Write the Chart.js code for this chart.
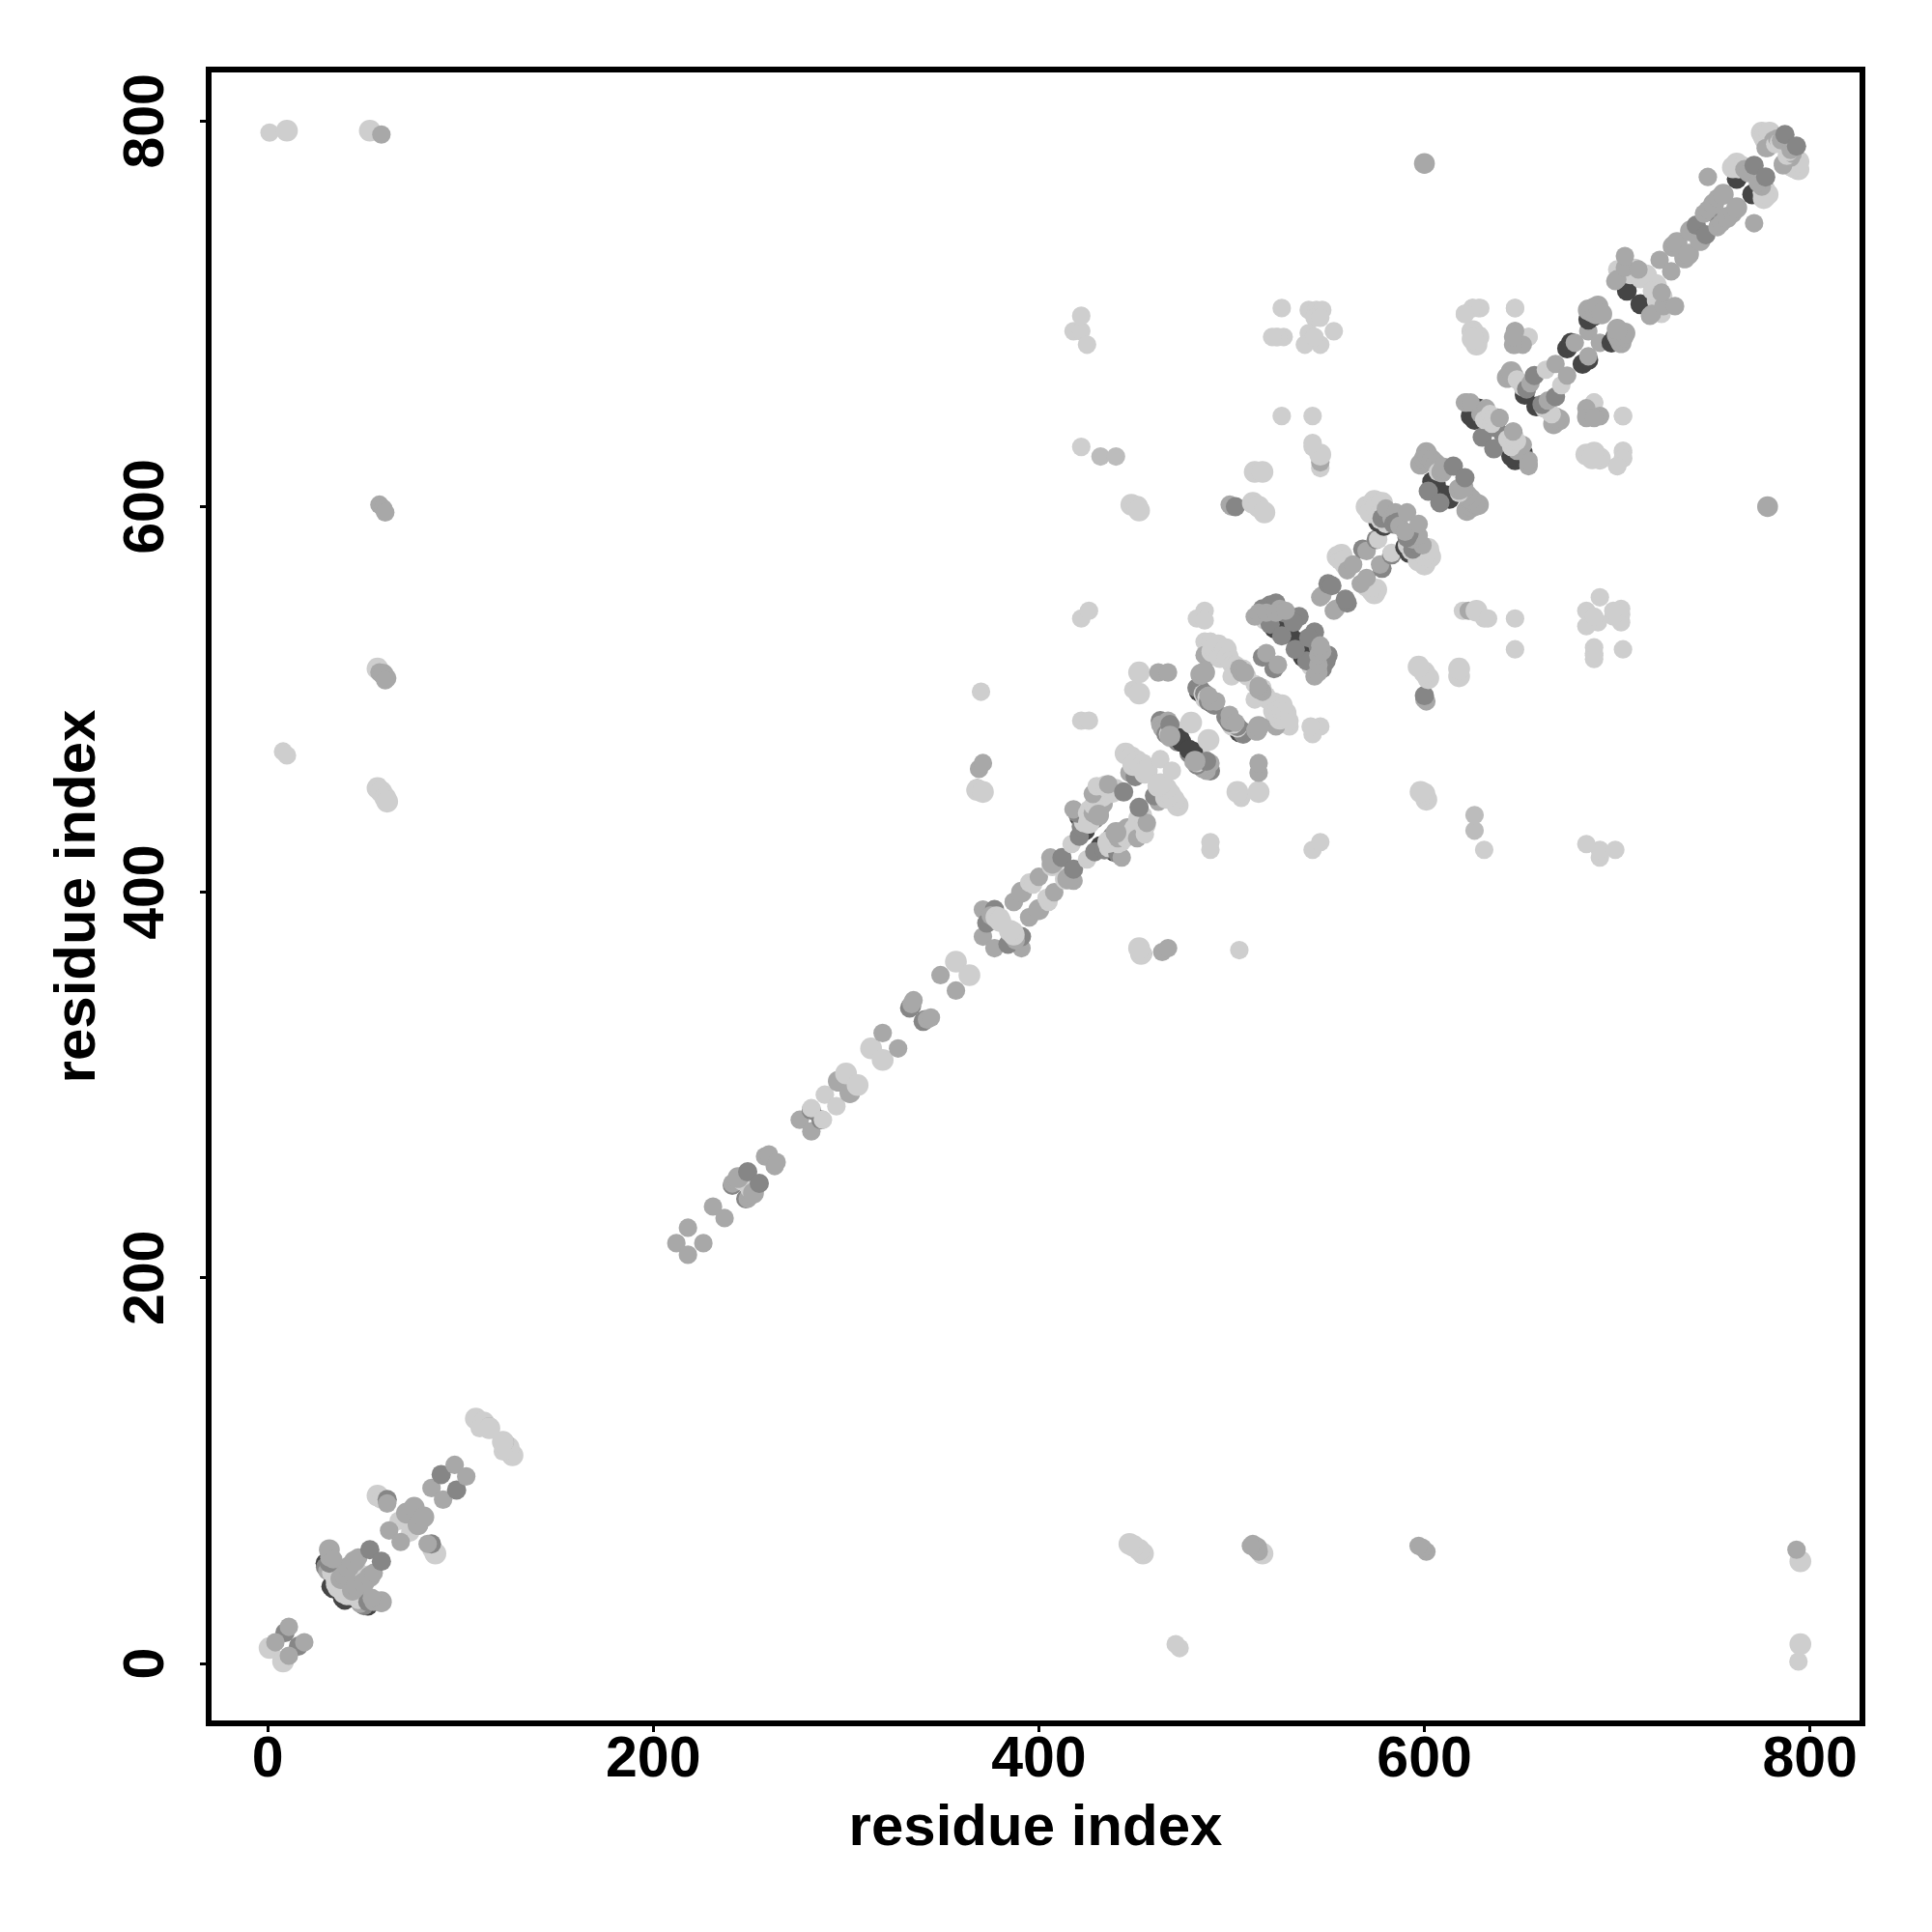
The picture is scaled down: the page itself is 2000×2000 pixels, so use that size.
<!DOCTYPE html>
<html>
<head>
<meta charset="utf-8">
<style>html,body{margin:0;padding:0;background:#fff}canvas{display:block}</style>
<script src="https://cdn.jsdelivr.net/npm/chart.js@4/dist/chart.umd.min.js"></script>
</head>
<body>
<canvas id="c" width="2000" height="2000"></canvas>
<script>
const axisTicks = [0, 200, 400, 600, 800];
const axisTitle = "residue index";

// Contacts: [residue i, residue j, class]. The map is symmetric, so each is shown at (i,j) and (j,i).
const farContacts = [
 [1,794,1],[10,795,0],[53,795,0],[59,793,3],[58,601,3],[60,599,3],[61,597,3],
 [57,516,0],[58,514,3],[60,513,4],[62,511,3],[61,510,3],[57,454,0],[59,452,0],[61,449,0],[62,447,0],
 [8,473,1],[10,471,1],[600,778,4]
];
const segment0to130 = [
 [1,8,0],[9,16,5],[4,11,3],[11,19,3],
 [30,52,6],[32,52,3],[30,50,5],[31,48,3],[33,40,6],[34,39,6],[35,41,1],[36,39,1],[35,43,1],[37,41,1],[33,47,1],[32,52,5],[46,52,1],[45,50,1],
 [38,44,4],[40,46,4],[42,50,4],[45,53,4],[32,55,3],[32,59,4],[34,54,3],[47,55,3],[53,59,5],
 [57,87,0],[59,85,1],[62,85,5],[62,83,3],[68,74,1],[63,69,3],[72,78,4],[76,81,4],
 [85,91,3],[90,98,5],[97,103,3],
 [108,127,0],[112,125,0],[110,122,1],[115,123,3],[115,122,0]
];
const segment210to370 = [
 [212,218,3],[218,226,3],[231,237,3],
 [241,248,5],[241,249,3],[243,250,3],[246,250,1],[244,252,4],[249,255,5],[258,263,3],[260,264,3],
 [276,282,3],[282,287,5],[282,288,1],[289,295,1],[296,302,4],[300,306,0],
 [313,319,0],[319,327,3],[333,340,5],[334,341,5],[334,342,3],[335,344,3],[349,357,3],[357,364,0]
];
const segment370to460 = [
 [371,377,3],[371,391,3],[373,384,5],[377,391,5],[375,388,3],[378,387,0],[380,387,1],[380,385,0],
 [387,395,1],[387,395,3],[391,400,4],[395,405,1],[397,404,1],[400,408,3],[407,414,0],[406,418,3],[407,415,4],[412,418,5],
 [421,439,6],[424,432,6],[423,440,6],[417,425,1],[421,429,5],[422,434,5],[423,436,1],[425,438,3],[429,438,5],[426,440,3],[420,441,5],[418,443,3],[426,436,0],[425,441,1],[426,443,1],
 [428,441,3],[431,443,4],[433,446,4],[428,445,1],[430,448,0],[433,450,0],[436,451,1],[438,452,0],[440,454,1],
 [428,451,3],[430,455,1],[435,455,0],[431,440,4],[436,456,3],[444,452,5],
 [447,462,3],[450,460,5],[445,472,0],[448,470,0],[449,466,0],[451,468,0],[454,466,0],[455,462,0],[456,463,0],[463,469,1]
];
const segment460to530 = [
 [463,489,5],[466,486,5],[463,487,3],[464,485,3],[465,484,3],[466,482,5],[467,482,1],[468,480,1],[470,483,3],[470,485,1],[472,478,5],[473,480,6],[474,478,6],[479,488,0],[467,489,3],[468,487,5],[468,481,4],
 [483,504,6],[490,498,6],[482,506,5],[486,500,1],[484,505,5],[485,503,1],[486,503,5],[487,501,1],[488,499,5],[491,497,5],[489,499,3],[492,499,3],[488,502,3],
 [486,546,1],[482,542,1],[486,541,1],[486,530,1],[489,530,1],[486,523,3],[488,522,3],[490,525,0],[493,528,0],[491,527,0],[494,522,0],[496,524,0],[497,526,0],[498,522,0],
 [499,520,1],[500,518,1],[502,518,1],[503,516,1],[500,512,1],[508,512,1],[506,516,1],[504,516,3],[505,514,3],[507,514,3],[484,513,4],[486,514,4],
 [516,522,5],[518,524,3]
];
const segment510to600 = [
 [524,535,1],[527,539,1],[531,538,1],[526,541,1],[517,541,1],
 [528,536,6],[529,543,6],[530,534,6],[525,541,6],[522,537,6],
 [516,547,5],[520,549,5],[523,550,5],[520,539,5],[526,533,5],[535,543,5],[527,545,5],[532,540,5],
 [512,543,3],[514,545,3],[518,545,3],[523,545,3],[525,547,3],[528,546,3],
 [546,553,3],[547,554,3],[550,560,5],[552,559,5],[555,574,0],[557,575,0],[559,570,0],[556,572,1],[558,573,1],[560,567,3],[563,570,3],
 [568,578,5],[570,577,3],[575,583,5],[576,583,1],
 [576,592,6],[579,590,6],[577,593,1],[580,591,1],[576,603,3],[574,598,0],[570,600,0],[572,597,0],[574,603,0],[575,600,0],[578,602,0],[577,597,1],[578,594,5],[581,596,5],[580,599,3],[583,594,3],[585,597,3],[584,591,5],[586,592,5],[587,590,3],[591,597,3]
];
const segment600to710 = [
 [604,613,6],[606,611,6],[602,608,5],[598,622,4],[600,625,4],[601,628,4],[602,626,4],[604,624,4],[606,622,4],[608,620,4],[607,618,1],[609,618,4],[610,620,4],[615,621,5],
 [624,647,6],[628,651,6],[626,645,6],[633,644,6],[630,636,5],[637,641,5],[638,646,5],[622,654,3],[621,654,3],[624,654,3],[629,648,3],[632,651,3],[631,645,1],[634,648,1],[635,643,1],[636,646,1],[639,646,3],
 [652,658,6],[643,667,4],[645,670,4],[646,668,4],[648,666,1],[649,665,1],[651,662,1],[653,661,5],[655,664,3],[657,668,5],[663,671,1],[668,674,3],
 [674,682,6],[676,685,6],[678,685,3],[685,691,3],[685,697,6],[688,699,6],[685,702,4],[687,701,4],[688,703,4],[689,700,4],[690,704,4],[692,700,4]
];
const segment700to795 = [
 [705,712,6],[709,723,0],[700,723,1],[707,721,0],[712,721,0],[715,720,0],[712,718,1],[699,717,3],[700,718,3],[704,724,3],[711,723,3],[704,730,3],[722,728,3],
 [729,735,4],[731,737,4],[738,743,4],[741,746,5],[748,753,5],[745,752,3],[747,754,3],[750,757,4],[752,760,3],[747,771,3],[755,762,4],
 [762,770,6],[760,776,0],[763,775,1],[762,778,0],[765,777,1],[766,775,3],[768,773,3],[771,777,5],[776,790,1],[775,794,0],[776,792,0],[777,793,0],[778,791,1],[779,794,0],[778,786,3],[780,788,1],[777,786,3],[781,790,3],[782,788,1],[783,791,3],[784,789,1],[785,790,3],[787,793,5]
];
const sideContacts = [
 [370,504,1],[368,454,3],[369,464,3],[371,467,3],[368,453,0],[371,452,0],
 [422,489,1],[426,489,1],[422,542,1],[426,546,1],[449,505,1],[452,503,0],[452,514,0],[462,514,3],[467,514,3],
 [418,691,1],[422,691,1],[422,699,1],[425,684,1],[422,631,1],[432,626,2],[440,626,2],
 [448,601,0],[451,600,0],[452,598,0],[499,601,3],[500,600,3],[502,600,5],[511,602,0],[514,600,0],[517,597,0],[512,618,0],[516,618,0],
 [526,703,1],[523,688,1],[527,688,1],[540,702,1],[544,702,1],[547,702,1],[543,698,1],[546,698,1],
 [540,690,1],[553,691,1],[538,684,1],[546,684,1],[543,688,1],[526,647,1],[542,647,1],[542,631,1],
 [546,620,1],[546,623,3],[546,627,0],[542,633,1],
 [621,700,1],[625,703,1],[629,703,1],[625,691,0],[628,688,0],[627,684,0],[647,703,1],
 [647,691,3],[647,684,3],[650,685,3],[654,688,1],[688,654,1],[684,651,3],[684,646,3],[691,647,3],[688,646,3],[703,647,1],
 [684,627,1],[688,628,1],[691,624,1],[687,625,0],[703,628,1],[703,625,1],[700,621,1],[524,688,1],[521,688,1]
];

// Appearance of each contact class.
const classFill = ["#cecece","#cecece","#bcbcbc","#a8a8a8","#a8a8a8","#868686","#454545"];
const classRadius = [11.3, 9.6, 9.6, 9.6, 10.8, 10, 10.3];

const contacts = [].concat(sideContacts, farContacts, segment0to130, segment210to370, segment370to460,
                           segment460to530, segment510to600, segment600to710, segment700to795);
const points = [], fills = [], radii = [];
contacts.forEach(([i, j, k]) => {
  [[i, j], [j, i]].forEach(([x, y]) => {
    points.push({x, y});
    fills.push(classFill[k]);
    radii.push(classRadius[k]);
  });
});

const frame = {
  id: "frame",
  afterDatasetsDraw(chart) {
    const a = chart.chartArea, c = chart.ctx;
    c.save();
    c.strokeStyle = "#000";
    c.lineWidth = 6;
    c.lineJoin = "miter";
    c.strokeRect(a.left, a.top, a.right - a.left, a.bottom - a.top);
    c.restore();
  }
};
const tickFont = {family: "'Liberation Sans', Arial, sans-serif", size: 59, weight: "bold"};
const titleFont = {family: "'Liberation Sans', Arial, sans-serif", size: 60, weight: "bold"};
const setTicks = s => { s.ticks = axisTicks.map(v => ({value: v})); };
const grid = {drawOnChartArea: false, drawTicks: true, tickLength: 9, tickWidth: 3, tickColor: "#000"};

new Chart(document.getElementById("c"), {
  type: "scatter",
  data: {datasets: [{
    data: points,
    pointBackgroundColor: fills,
    pointBorderWidth: 0,
    pointRadius: radii,
    pointHoverRadius: radii,
    showLine: false
  }]},
  plugins: [frame],
  options: {
    responsive: false,
    animation: false,
    events: [],
    layout: {padding: {top: 72, right: 72, left: 0, bottom: 0}},
    plugins: {legend: {display: false}, tooltip: {enabled: false}, title: {display: false}},
    scales: {
      x: {
        type: "linear", position: "bottom", min: -30.6, max: 827.2,
        afterBuildTicks: setTicks,
        afterFit: s => { s.height = 216; },
        grid, border: {display: false},
        ticks: {color: "#000", font: tickFont, padding: -6, autoSkip: false, maxRotation: 0, minRotation: 0, callback: v => String(v)},
        title: {display: true, text: axisTitle, color: "#000", font: titleFont, padding: {top: 0, bottom: 71}}
      },
      y: {
        type: "linear", position: "left", min: -31.06, max: 826.7,
        afterBuildTicks: setTicks,
        afterFit: s => { s.width = 216; },
        grid, border: {display: false},
        ticks: {color: "#000", font: tickFont, padding: 5, autoSkip: false, maxRotation: 90, minRotation: 90, crossAlign: "center", callback: v => String(v)},
        title: {display: true, text: axisTitle, color: "#000", font: titleFont, padding: {top: 45, bottom: 0}}
      }
    }
  }
});
</script>
</body>
</html>
